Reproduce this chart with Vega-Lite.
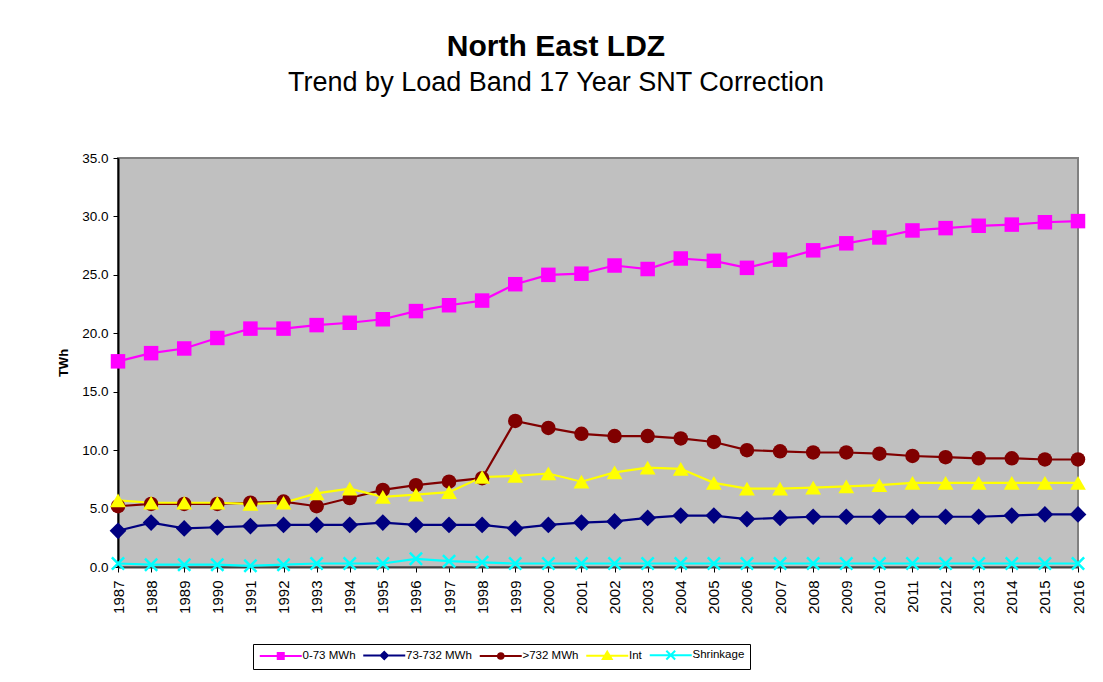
{
  "$schema": "https://vega.github.io/schema/vega-lite/v6.json",
  "width": 960,
  "height": 409,
  "autosize": {"type": "none"},
  "padding": {"left": 118, "top": 158, "right": 25, "bottom": 115},
  "background": "white",
  "config": {
    "font": "Liberation Sans",
    "view": {"fill": "#C0C0C0", "stroke": "#808080", "strokeWidth": 2}
  },
  "title": {
    "text": "North East LDZ",
    "subtitle": "Trend by Load Band 17 Year SNT Correction",
    "font": "Liberation Sans",
    "subtitleFont": "Liberation Sans",
    "fontSize": 30,
    "fontWeight": "bold",
    "subtitleFontSize": 27,
    "color": "black",
    "subtitleColor": "black",
    "anchor": "middle",
    "dx": -42,
    "offset": 55,
    "subtitlePadding": 8
  },
  "data": {
    "values": [
      {"year": 1987, "0-73 MWh": 17.6, "73-732 MWh": 3.1, ">732 MWh": 5.2, "Int": 5.7, "Shrinkage": 0.3},
      {"year": 1988, "0-73 MWh": 18.3, "73-732 MWh": 3.8, ">732 MWh": 5.4, "Int": 5.5, "Shrinkage": 0.2},
      {"year": 1989, "0-73 MWh": 18.7, "73-732 MWh": 3.3, ">732 MWh": 5.4, "Int": 5.5, "Shrinkage": 0.2},
      {"year": 1990, "0-73 MWh": 19.6, "73-732 MWh": 3.4, ">732 MWh": 5.4, "Int": 5.5, "Shrinkage": 0.2},
      {"year": 1991, "0-73 MWh": 20.4, "73-732 MWh": 3.5, ">732 MWh": 5.5, "Int": 5.4, "Shrinkage": 0.1},
      {"year": 1992, "0-73 MWh": 20.4, "73-732 MWh": 3.6, ">732 MWh": 5.6, "Int": 5.5, "Shrinkage": 0.2},
      {"year": 1993, "0-73 MWh": 20.7, "73-732 MWh": 3.6, ">732 MWh": 5.2, "Int": 6.3, "Shrinkage": 0.3},
      {"year": 1994, "0-73 MWh": 20.9, "73-732 MWh": 3.6, ">732 MWh": 5.9, "Int": 6.7, "Shrinkage": 0.3},
      {"year": 1995, "0-73 MWh": 21.2, "73-732 MWh": 3.8, ">732 MWh": 6.6, "Int": 6.0, "Shrinkage": 0.3},
      {"year": 1996, "0-73 MWh": 21.9, "73-732 MWh": 3.6, ">732 MWh": 7.0, "Int": 6.2, "Shrinkage": 0.7},
      {"year": 1997, "0-73 MWh": 22.4, "73-732 MWh": 3.6, ">732 MWh": 7.3, "Int": 6.4, "Shrinkage": 0.5},
      {"year": 1998, "0-73 MWh": 22.8, "73-732 MWh": 3.6, ">732 MWh": 7.6, "Int": 7.7, "Shrinkage": 0.4},
      {"year": 1999, "0-73 MWh": 24.2, "73-732 MWh": 3.3, ">732 MWh": 12.5, "Int": 7.8, "Shrinkage": 0.3},
      {"year": 2000, "0-73 MWh": 25.0, "73-732 MWh": 3.6, ">732 MWh": 11.9, "Int": 8.0, "Shrinkage": 0.3},
      {"year": 2001, "0-73 MWh": 25.1, "73-732 MWh": 3.8, ">732 MWh": 11.4, "Int": 7.3, "Shrinkage": 0.3},
      {"year": 2002, "0-73 MWh": 25.8, "73-732 MWh": 3.9, ">732 MWh": 11.2, "Int": 8.1, "Shrinkage": 0.3},
      {"year": 2003, "0-73 MWh": 25.5, "73-732 MWh": 4.2, ">732 MWh": 11.2, "Int": 8.5, "Shrinkage": 0.3},
      {"year": 2004, "0-73 MWh": 26.4, "73-732 MWh": 4.4, ">732 MWh": 11.0, "Int": 8.4, "Shrinkage": 0.3},
      {"year": 2005, "0-73 MWh": 26.2, "73-732 MWh": 4.4, ">732 MWh": 10.7, "Int": 7.2, "Shrinkage": 0.3},
      {"year": 2006, "0-73 MWh": 25.6, "73-732 MWh": 4.1, ">732 MWh": 10.0, "Int": 6.7, "Shrinkage": 0.3},
      {"year": 2007, "0-73 MWh": 26.3, "73-732 MWh": 4.2, ">732 MWh": 9.9, "Int": 6.7, "Shrinkage": 0.3},
      {"year": 2008, "0-73 MWh": 27.1, "73-732 MWh": 4.3, ">732 MWh": 9.8, "Int": 6.8, "Shrinkage": 0.3},
      {"year": 2009, "0-73 MWh": 27.7, "73-732 MWh": 4.3, ">732 MWh": 9.8, "Int": 6.9, "Shrinkage": 0.3},
      {"year": 2010, "0-73 MWh": 28.2, "73-732 MWh": 4.3, ">732 MWh": 9.7, "Int": 7.0, "Shrinkage": 0.3},
      {"year": 2011, "0-73 MWh": 28.8, "73-732 MWh": 4.3, ">732 MWh": 9.5, "Int": 7.2, "Shrinkage": 0.3},
      {"year": 2012, "0-73 MWh": 29.0, "73-732 MWh": 4.3, ">732 MWh": 9.4, "Int": 7.2, "Shrinkage": 0.3},
      {"year": 2013, "0-73 MWh": 29.2, "73-732 MWh": 4.3, ">732 MWh": 9.3, "Int": 7.2, "Shrinkage": 0.3},
      {"year": 2014, "0-73 MWh": 29.3, "73-732 MWh": 4.4, ">732 MWh": 9.3, "Int": 7.2, "Shrinkage": 0.3},
      {"year": 2015, "0-73 MWh": 29.5, "73-732 MWh": 4.5, ">732 MWh": 9.2, "Int": 7.2, "Shrinkage": 0.3},
      {"year": 2016, "0-73 MWh": 29.6, "73-732 MWh": 4.5, ">732 MWh": 9.2, "Int": 7.2, "Shrinkage": 0.3}
    ]
  },
  "transform": [
    {"fold": ["0-73 MWh", "73-732 MWh", ">732 MWh", "Int", "Shrinkage"], "as": ["series", "value"]}
  ],
  "encoding": {
    "x": {
      "field": "year",
      "type": "ordinal",
      "scale": {"type": "point", "padding": 0},
      "axis": {
        "title": null,
        "labelAngle": 270,
        "labelFontSize": 15,
        "labelColor": "black",
        "labelPadding": 8,
        "tickSize": 5,
        "tickColor": "black",
        "domainColor": "#404040",
        "domainWidth": 2,
        "labelFont": "Liberation Sans"
      }
    },
    "y": {
      "field": "value",
      "type": "quantitative",
      "scale": {"domain": [0, 35], "nice": false},
      "axis": {
        "title": "TWh",
        "titleFontWeight": "bold",
        "titleFontSize": 13,
        "titleColor": "black",
        "titlePadding": 11,
        "titleFont": "Liberation Sans",
        "values": [0, 5, 10, 15, 20, 25, 30, 35],
        "format": ".1f",
        "labelFontSize": 13.5,
        "labelColor": "black",
        "labelFont": "Liberation Sans",
        "labelPadding": 5,
        "tickSize": 5,
        "tickColor": "black",
        "domainColor": "black",
        "domainWidth": 2,
        "grid": false
      }
    }
  },
  "layer": [
    {
      "mark": {"type": "line", "strokeWidth": 2.2},
      "encoding": {
        "color": {
          "field": "series",
          "type": "nominal",
          "scale": {
            "domain": ["0-73 MWh", "73-732 MWh", ">732 MWh", "Int", "Shrinkage"],
            "range": ["#FF00FF", "#000080", "#800000", "#FFFF00", "#00FFFF"]
          },
          "legend": null
        }
      }
    },
    {
      "transform": [{"filter": "datum.series === '0-73 MWh'"}],
      "mark": {"type": "point", "shape": "square", "filled": true, "opacity": 1, "size": 210, "color": "#FF00FF"}
    },
    {
      "transform": [{"filter": "datum.series === '73-732 MWh'"}],
      "mark": {"type": "point", "shape": "diamond", "filled": true, "opacity": 1, "size": 280, "color": "#000080"}
    },
    {
      "transform": [{"filter": "datum.series === '>732 MWh'"}],
      "mark": {"type": "point", "shape": "circle", "filled": true, "opacity": 1, "size": 210, "color": "#800000"}
    },
    {
      "transform": [{"filter": "datum.series === 'Int'"}],
      "mark": {"type": "point", "shape": "triangle-up", "filled": true, "opacity": 1, "size": 250, "color": "#FFFF00"}
    },
    {
      "transform": [{"filter": "datum.series === 'Shrinkage'"}],
      "mark": {"type": "point", "filled": false, "opacity": 1, "size": 150, "strokeWidth": 2.5, "shape": "M-1,-1L1,1M-1,1L1,-1", "color": "#00FFFF"}
    },
    {
      "transform": [{"filter": "datum.value < -100"}],
      "mark": {"type": "point", "filled": true, "opacity": 1, "strokeWidth": 2},
      "encoding": {
        "fill": {
          "field": "series",
          "type": "nominal",
          "scale": {
            "domain": ["0-73 MWh", "73-732 MWh", ">732 MWh", "Int", "Shrinkage"],
            "range": ["#FF00FF", "#000080", "#800000", "#FFFF00", "#00FFFF"]
          },
          "legend": {
            "title": null, "orient": "none", "legendX": 135, "legendY": 486,
            "direction": "horizontal", "columns": 5, "symbolSize": 64, "symbolStrokeWidth": 2,
            "symbolOpacity": 1, "labelFontSize": 11.5, "labelColor": "black", "labelFont": "Liberation Sans",
            "labelOffset": 33, "labelLimit": 0, "columnPadding": 2.5, "padding": 5,
            "strokeColor": "black", "fillColor": "white"
          }
        },
        "stroke": {
          "field": "series",
          "type": "nominal",
          "scale": {
            "domain": ["0-73 MWh", "73-732 MWh", ">732 MWh", "Int", "Shrinkage"],
            "range": ["#FF00FF", "#000080", "#800000", "#FFFF00", "#00FFFF"]
          },
          "legend": {
            "title": null, "orient": "none", "legendX": 135, "legendY": 486,
            "direction": "horizontal", "columns": 5, "symbolSize": 64, "symbolStrokeWidth": 2,
            "symbolOpacity": 1, "labelFontSize": 11.5, "labelColor": "black", "labelFont": "Liberation Sans",
            "labelOffset": 33, "labelLimit": 0, "columnPadding": 2.5, "padding": 5,
            "strokeColor": "black", "fillColor": "white"
          }
        },
        "shape": {
          "field": "series",
          "type": "nominal",
          "scale": {
            "domain": ["0-73 MWh", "73-732 MWh", ">732 MWh", "Int", "Shrinkage"],
            "range": [
              "M-1,0H9.5M3.5,-0.75H5V0.75H3.5Z",
              "M-1,0H9.5M3.35,0L4.25,-0.9L5.15,0L4.25,0.9Z",
              "M-1,0H9.5M3.55,0A0.7,0.7,0,1,0,4.95,0A0.7,0.7,0,1,0,3.55,0Z",
              "M-1,0H9.5M4.25,-1L5.35,0.8L3.15,0.8Z",
              "M-1,0H9.5M3.15,-1.1L5.35,1.1M3.15,1.1L5.35,-1.1"
            ]
          },
          "legend": {
            "title": null, "orient": "none", "legendX": 135, "legendY": 486,
            "direction": "horizontal", "columns": 5, "symbolSize": 64, "symbolStrokeWidth": 2,
            "symbolOpacity": 1, "labelFontSize": 11.5, "labelColor": "black", "labelFont": "Liberation Sans",
            "labelOffset": 33, "labelLimit": 0, "columnPadding": 2.5, "padding": 5,
            "strokeColor": "black", "fillColor": "white"
          }
        }
      }
    }
  ],
  "resolve": {"scale": {"shape": "independent", "fill": "independent", "stroke": "independent"}}
}
